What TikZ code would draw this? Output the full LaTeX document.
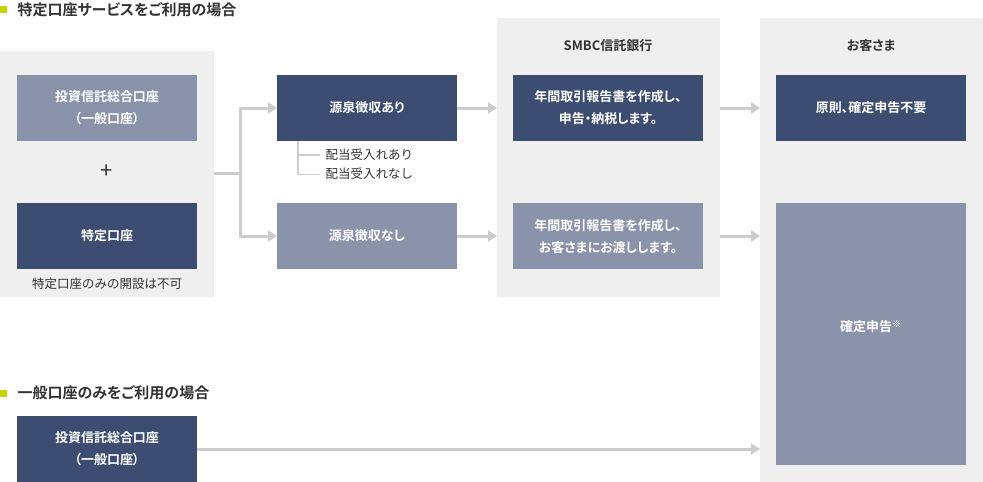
\documentclass[tikz,border=0pt]{standalone}
\usepackage{fontspec}
\setmainfont{Noto Sans CJK JP}
\newfontfamily\jpb[RawFeature=+palt]{Noto Sans CJK JP Bold}
\usetikzlibrary{arrows.meta}
\definecolor{dk}{HTML}{3C4D71}
\definecolor{lt}{HTML}{8A93A9}
\definecolor{pn}{HTML}{EFEFEF}
\definecolor{ln}{HTML}{CCCCCC}
\definecolor{lime}{HTML}{C3D600}
\definecolor{tx}{HTML}{333333}
\tikzset{
 box/.style={inner sep=0pt,text=white,font=\jpb\fontsize{13}{22}\selectfont,align=center},
 con/.style={draw=ln,line width=3pt},
 arr/.style={con,-{Triangle[length=9pt,width=11pt]}},
 ttl/.style={anchor=west,text=tx,font=\jpb\fontsize{15}{17}\selectfont},
 sm/.style={text=tx,font=\fontsize{12.5}{14}\selectfont}
}
\begin{document}
\begin{tikzpicture}[x=1pt,y=-1pt]
\useasboundingbox (0,0) rectangle (983,482);
% panels
\fill[pn] (0,51) rectangle (214,297);
\fill[pn] (497,18) rectangle (720,297);
\fill[pn] (760,18) rectangle (983,482);
% titles
\fill[lime] (0,6) rectangle (7,13);
\node[ttl] (t1) at (14,10) {特定口座サービスをご利用の場合};
\fill[lime] (0,390) rectangle (7,397);
\node[ttl] (t2) at (14,393) {一般口座のみをご利用の場合};
\node[text=tx,font=\jpb\fontsize{13}{15}\selectfont] (h1) at (608,46) {SMBC信託銀行};
\node[text=tx,font=\jpb\fontsize{13}{15}\selectfont] (h2) at (871,46) {お客さま};
% boxes
\fill[lt] (17,75) rectangle (197,141); \node[box] (a1) at (107,108) {投資信託総合口座\\（一般口座）};
\node[text=tx,font=\fontsize{22}{22}\selectfont] (plus) at (107,172) {+};
\fill[dk] (17,203) rectangle (197,269); \node[box] (a2) at (107,236) {特定口座};
\node[sm] (cap) at (107,284) {特定口座のみの開設は不可};
\fill[dk] (277,75) rectangle (457,141); \node[box] (b1) at (367,108) {源泉徴収あり};
\fill[lt] (277,203) rectangle (457,269); \node[box] (b2) at (367,236) {源泉徴収なし};
\fill[dk] (513,75) rectangle (703,141); \node[box] (c1) at (608,108) {年間取引報告書を作成し、\\申告・納税します。};
\fill[lt] (513,203) rectangle (703,269); \node[box] (c2) at (608,236) {年間取引報告書を作成し、\\お客さまにお渡しします。};
\fill[dk] (776,75) rectangle (966,141); \node[box] (d1) at (871,108) {原則、確定申告不要};
\fill[lt] (776,203) rectangle (966,465); \node[box] (d2) at (871,327) {確定申告\textsuperscript{※}};
\fill[dk] (17,416) rectangle (197,482); \node[box] (e1) at (107,449) {投資信託総合口座\\（一般口座）};
% sub notes
\node[sm,anchor=west] (n1) at (322,155) {配当受入れあり};
\node[sm,anchor=west] (n2) at (322,174) {配当受入れなし};
\draw[ln,line width=1.2pt] (298,141) -- (298,174.5) -- (320,174.5) (298,155) -- (320,155);
% connectors
\coordinate (p0) at (214,173);
\coordinate (pj) at (240,173);
\draw[con] (p0) -- (pj);
\draw[arr] (pj) |- (277,108);
\draw[arr] (pj) |- (277,236);
\draw[arr] (457,108) -- (497,108);
\draw[arr] (457,236) -- (497,236);
\draw[arr] (720,108) -- (760,108);
\draw[arr] (720,236) -- (760,236);
\draw[arr] (197,449) -- (760,449);
\end{tikzpicture}
\end{document}
